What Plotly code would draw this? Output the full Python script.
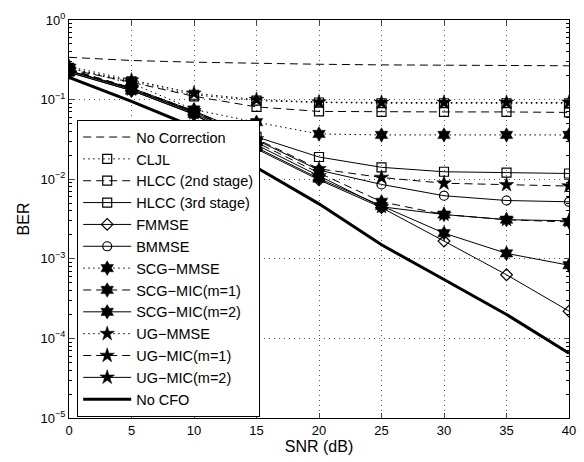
import plotly.graph_objects as go

snr = [0, 5, 10, 15, 20, 25, 30, 35, 40]

no_correction = [0.34, 0.31, 0.295, 0.285, 0.278, 0.273, 0.27, 0.268, 0.266]
cljl = [0.25, 0.17, 0.115, 0.097, 0.092, 0.09, 0.09, 0.09, 0.09]
hlcc2 = [0.24, 0.165, 0.11, 0.081, 0.071, 0.07, 0.07, 0.07, 0.069]
hlcc3 = [0.23, 0.14, 0.072, 0.034, 0.019, 0.0141, 0.0124, 0.0121, 0.0118]
fmmse = [0.22, 0.13, 0.065, 0.024, 0.0098, 0.0044, 0.00167, 0.00063, 0.00022]
bmmse = [0.23, 0.135, 0.07, 0.031, 0.013, 0.0086, 0.0062, 0.0054, 0.0052]
scg_mmse = [0.25, 0.16, 0.075, 0.052, 0.037, 0.036, 0.036, 0.036, 0.036]
scg_mic1 = [0.24, 0.14, 0.07, 0.029, 0.012, 0.0052, 0.0036, 0.0031, 0.0029]
scg_mic2 = [0.22, 0.13, 0.066, 0.025, 0.0102, 0.0046, 0.0021, 0.00117, 0.00083]
ug_mmse = [0.26, 0.175, 0.12, 0.1, 0.093, 0.092, 0.092, 0.092, 0.092]
ug_mic1 = [0.24, 0.14, 0.072, 0.032, 0.0135, 0.0105, 0.0089, 0.0085, 0.0082]
ug_mic2 = [0.23, 0.135, 0.068, 0.027, 0.011, 0.0045, 0.0036, 0.0031, 0.003]
no_cfo = [0.19, 0.095, 0.045, 0.014, 0.0049, 0.0015, 0.00055, 0.0002, 0.000065]

DASH = "8px,5px"
DOT = "1.5px,3.5px"

series = [
    ("No Correction", no_correction, DASH, None, 1),
    ("CLJL", cljl, DOT, "square-open", 1),
    ("HLCC (2nd stage)", hlcc2, DASH, "square-open", 1),
    ("HLCC (3rd stage)", hlcc3, "solid", "square-open", 1),
    ("FMMSE", fmmse, "solid", "diamond-open", 1),
    ("BMMSE", bmmse, "solid", "circle-open", 1),
    ("SCG\u2212MMSE", scg_mmse, DOT, "hexagram", 1),
    ("SCG\u2212MIC(m=1)", scg_mic1, DASH, "hexagram", 1),
    ("SCG\u2212MIC(m=2)", scg_mic2, "solid", "hexagram", 1),
    ("UG\u2212MMSE", ug_mmse, DOT, "star", 1),
    ("UG\u2212MIC(m=1)", ug_mic1, DASH, "star", 1),
    ("UG\u2212MIC(m=2)", ug_mic2, "solid", "star", 1),
    ("No CFO", no_cfo, "solid", None, 3),
]

fig = go.Figure()
for i, (name, vals, dash, sym, w) in enumerate(series):
    mode = "lines+markers" if sym else "lines"
    marker = None
    if sym:
        if sym.endswith("-open"):
            marker = dict(symbol=sym, size=9, color="black", line=dict(color="black", width=1.2))
        else:
            marker = dict(symbol=sym, size=11, color="black", line=dict(color="black", width=0.5))
    fig.add_trace(go.Scatter(
        x=snr, y=vals, name=name, mode=mode,
        line=dict(color="black", width=w, dash=dash),
        marker=marker,
    ))

font = "Liberation Sans, Arial, Helvetica, sans-serif"
yt = [1, 0.1, 0.01, 0.001, 0.0001, 0.00001]
ytxt = ["10<sup>0</sup>", "10<sup>\u22121</sup>", "10<sup>\u22122</sup>",
        "10<sup>\u22123</sup>", "10<sup>\u22124</sup>", "10<sup>\u22125</sup>"]

GRID = "1px,4px"

fig.update_layout(
    width=584, height=462,
    margin=dict(l=69, r=8, t=20, b=44),
    paper_bgcolor="white", plot_bgcolor="white",
    font=dict(family=font, size=13, color="black"),
    showlegend=True,
    legend=dict(
        x=0.016, y=0.749, xanchor="left", yanchor="top",
        bgcolor="white", bordercolor="black", borderwidth=1.2,
        font=dict(size=14.5, family=font),
        itemwidth=48,
    ),
    xaxis=dict(
        range=[0, 40], tickvals=snr, ticks="inside", ticklen=5,
        showline=True, linecolor="black", linewidth=1, mirror="ticks",
        showgrid=True, gridcolor="#555", griddash=GRID, gridwidth=1,
        zeroline=False, title=dict(text="SNR (dB)", standoff=2),
        tickfont=dict(size=13),
    ),
    yaxis=dict(
        type="log", range=[-5, 0], tickvals=yt, ticktext=ytxt,
        ticks="inside", ticklen=5,
        showline=True, linecolor="black", linewidth=1, mirror="ticks",
        showgrid=True, gridcolor="#555", griddash=GRID, gridwidth=1,
        zeroline=False, title=dict(text="BER", standoff=6),
        tickfont=dict(size=13),
        minor=dict(ticks="inside", ticklen=3, dtick="D1", showgrid=False, tickcolor="black"),
    ),
)

fig.write_html("out.html")
